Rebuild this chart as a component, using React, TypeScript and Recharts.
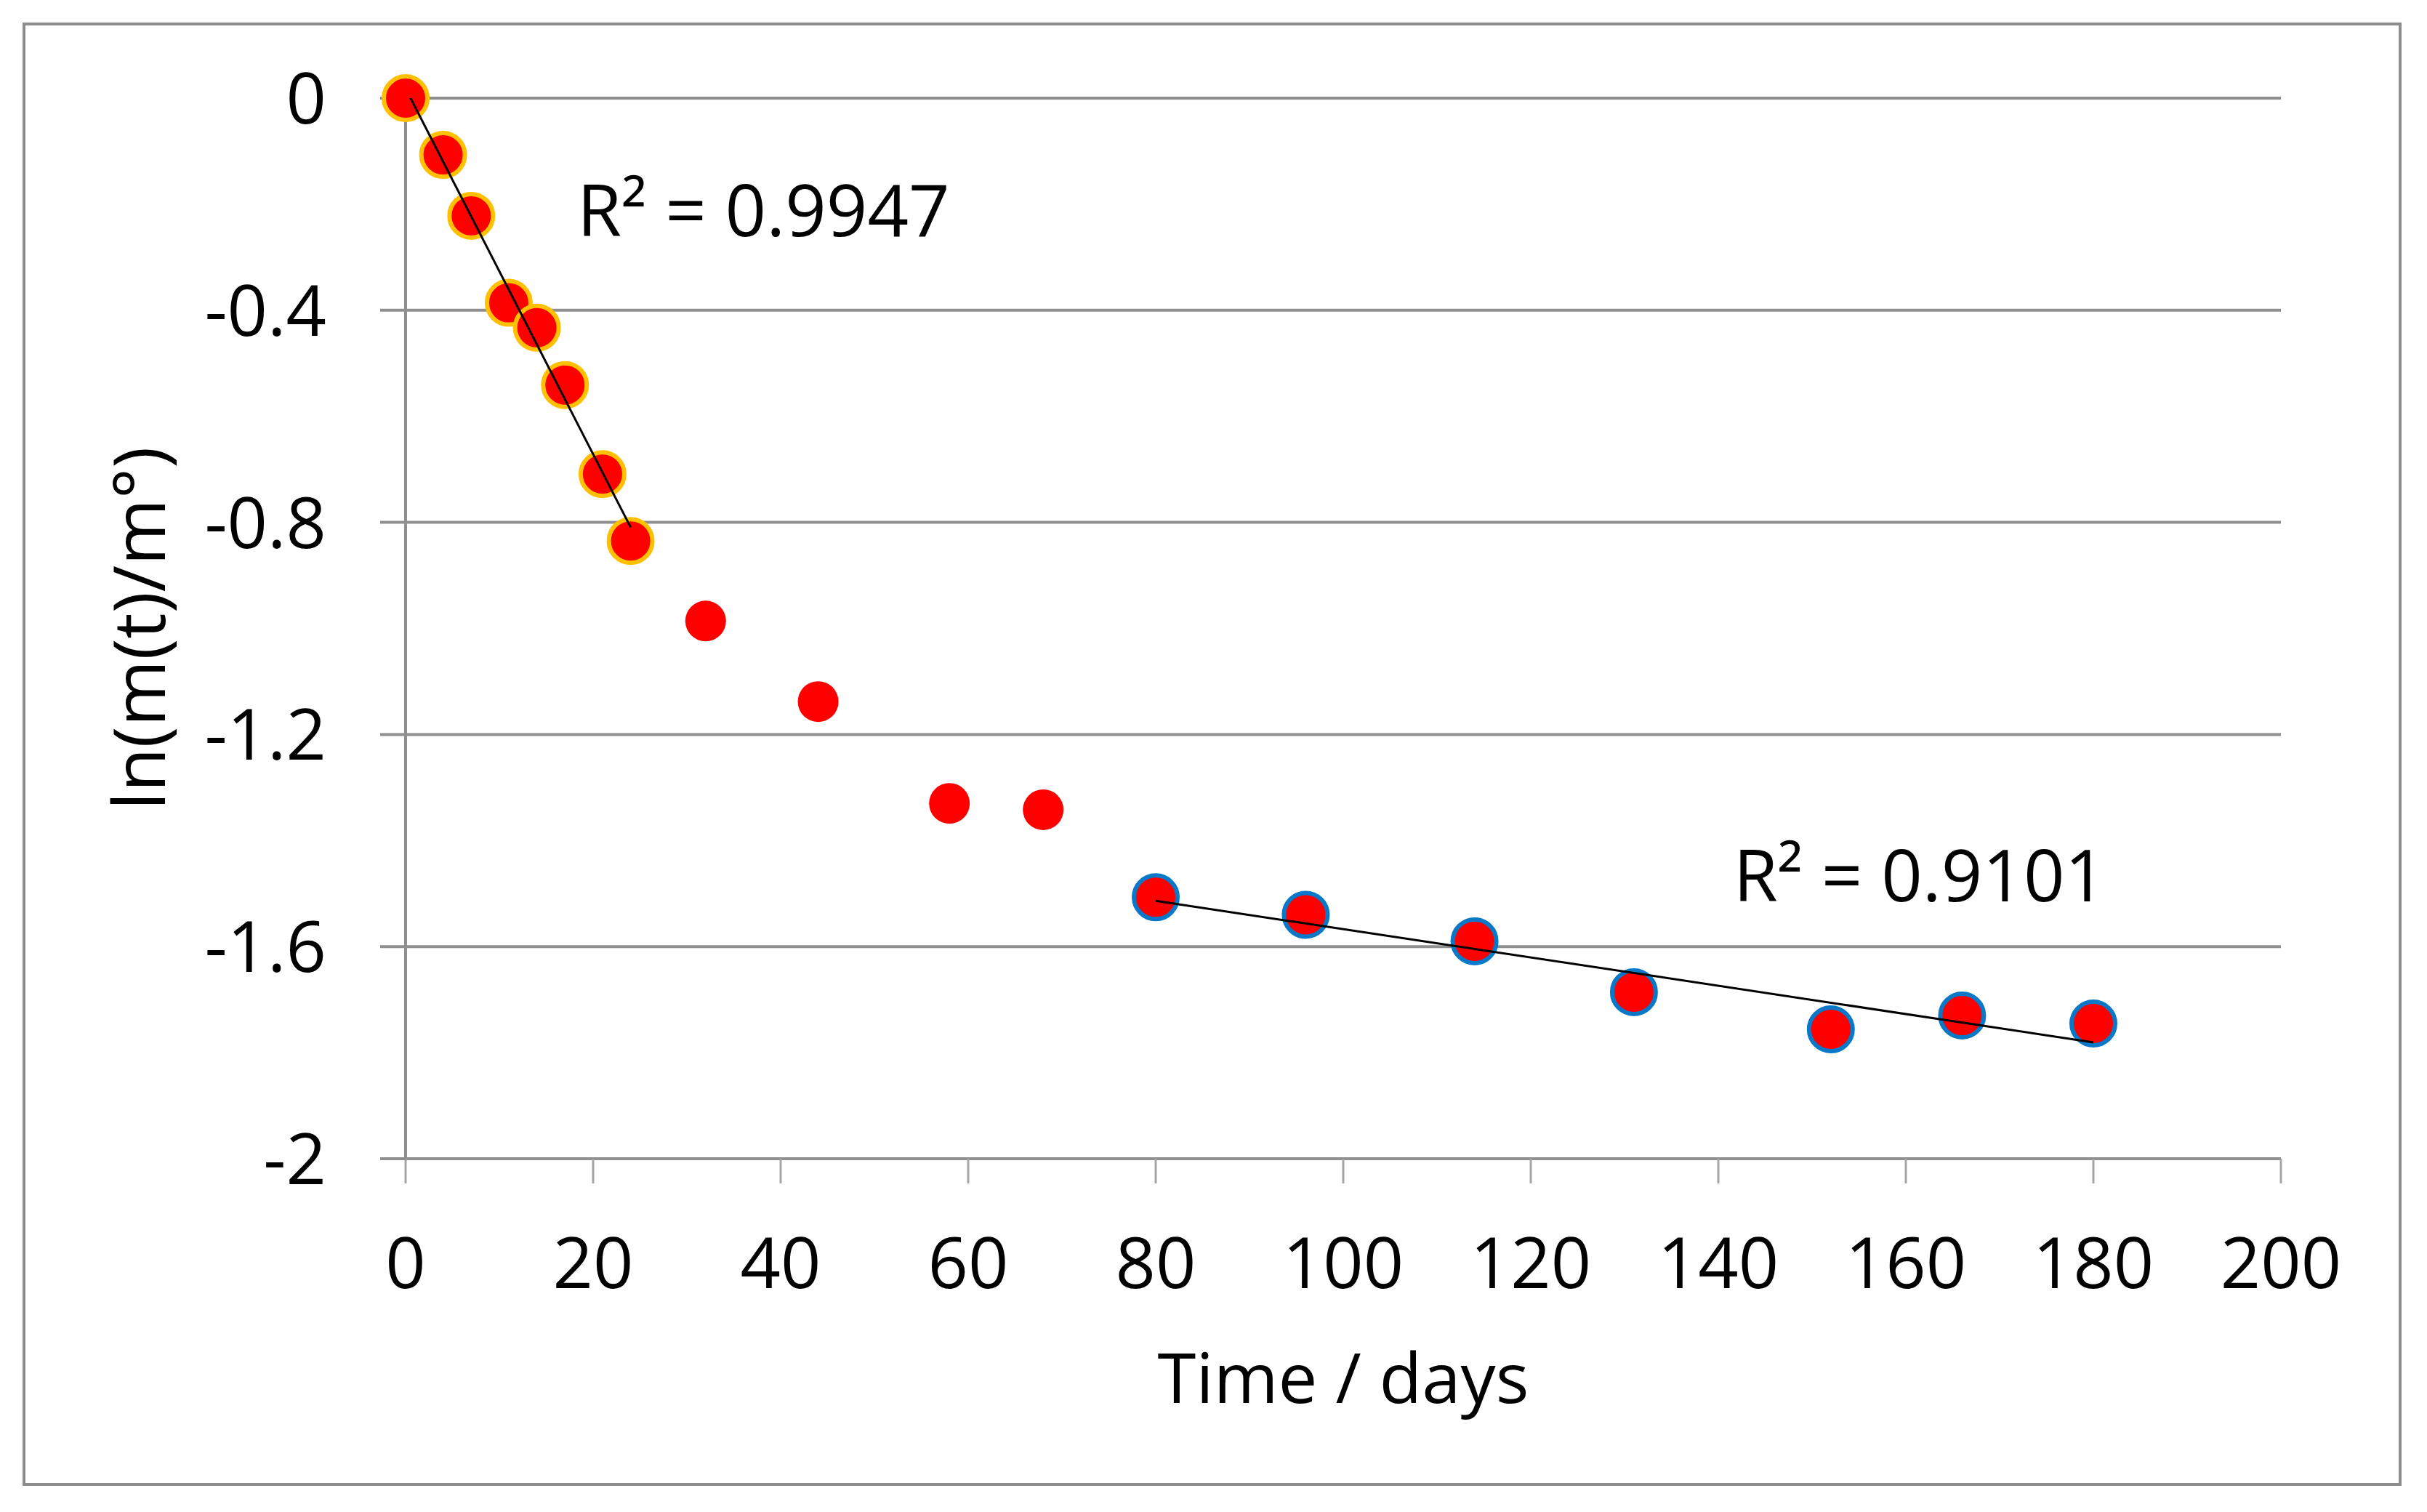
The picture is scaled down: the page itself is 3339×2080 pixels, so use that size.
import { ScatterChart, Scatter, XAxis, YAxis, CartesianGrid, ReferenceDot } from 'recharts';

// ln(m(t)/m°) against time
const earlyDays = [0, 4, 7, 11, 14, 17, 21, 24];
const earlyLn = [0, -0.107, -0.222, -0.386, -0.433, -0.541, -0.709, -0.835];
const midDays = [32, 44, 58, 68];
const midLn = [-0.986, -1.138, -1.33, -1.342];
const lateDays = [80, 96, 114, 131, 152, 166, 180];
const lateLn = [-1.507, -1.54, -1.59, -1.686, -1.756, -1.73, -1.745];

const xTicks = [0, 20, 40, 60, 80, 100, 120, 140, 160, 180, 200];
const yTicks = [0, -0.4, -0.8, -1.2, -1.6, -2];

const earlyR2 = 'R² = 0.9947';
const lateR2 = 'R² = 0.9101';

const W = 3339;
const H = 2080;
const FONT = '"Open Sans", "DejaVu Sans", sans-serif';
const GRID = '#8f8f8f';

const zip = (xs: number[], ys: number[]) => xs.map((x, i) => ({ x, y: ys[i] }));

// least squares line between first and last x
function fitLine(xs: number[], ys: number[]) {
  const n = xs.length;
  const mx = xs.reduce((a, b) => a + b, 0) / n;
  const my = ys.reduce((a, b) => a + b, 0) / n;
  let sxy = 0;
  let sxx = 0;
  xs.forEach((x, i) => {
    sxy += (x - mx) * (ys[i] - my);
    sxx += (x - mx) * (x - mx);
  });
  const b = sxy / sxx;
  const a = my - b * mx;
  const x0 = xs[0];
  const x1 = xs[n - 1];
  return [
    { x: x0, y: a + b * x0 },
    { x: x1, y: a + b * x1 },
  ];
}

const earlyPts = zip(earlyDays, earlyLn);
const midPts = zip(midDays, midLn);
const latePts = zip(lateDays, lateLn);
const earlyFit = fitLine(earlyDays, earlyLn);
const lateFit = fitLine(lateDays, lateLn);

const dot = (stroke: string | null, r: number) => (props: any) => (
  <circle
    cx={props.cx}
    cy={props.cy}
    r={r}
    fill="#ff0000"
    stroke={stroke || 'none'}
    strokeWidth={stroke ? 6 : 0}
  />
);

const YTick = (props: any) => (
  <text x={props.x} y={props.y} dy="0.36em" textAnchor="end" fontFamily={FONT} fontSize={97} fill="#000">
    {props.payload.value}
  </text>
);

const XTick = (props: any) => (
  <text x={props.x} y={props.y} dy={144} textAnchor="middle" fontFamily={FONT} fontSize={97} fill="#000">
    {props.payload.value}
  </text>
);

const r2Label = (text: string) => (props: any) => {
  const vb = props.viewBox || {};
  return (
    <text x={vb.x} y={vb.y} fontFamily={FONT} fontSize={99} fill="#000">
      {text}
    </text>
  );
};

export default function App() {
  return (
    <div style={{ position: 'absolute', left: 0, top: 0, width: W, height: H, background: '#fff' }}>
      <div
        style={{
          position: 'absolute',
          left: 31,
          top: 31,
          width: 3273,
          height: 2013,
          border: '4px solid #8c8c8c',
          boxSizing: 'border-box',
        }}
      />
      <div style={{ position: 'absolute', left: 0, top: 0 }}>
        <ScatterChart width={W} height={H} margin={{ top: 135, right: 201, bottom: 286, left: 358 }}>
          <CartesianGrid horizontal vertical={false} stroke={GRID} strokeWidth={4} />
          <XAxis
            type="number"
            dataKey="x"
            domain={[0, 200]}
            ticks={xTicks}
            interval={0}
            height={200}
            axisLine={{ stroke: GRID, strokeWidth: 4 }}
            tickLine={{ stroke: '#a6a6a6', strokeWidth: 3 }}
            tickSize={34}
            tickMargin={0}
            tick={<XTick />}
            label={{
              content: (p: any) => {
                const vb = p.viewBox;
                return (
                  <text x={vb.x + vb.width / 2} y={vb.y + 336} textAnchor="middle" fontFamily={FONT} fontSize={96} fill="#000">
                    Time / days
                  </text>
                );
              },
            }}
          />
          <YAxis
            type="number"
            dataKey="y"
            domain={[-2, 0]}
            ticks={yTicks}
            interval={0}
            width={200}
            axisLine={{ stroke: GRID, strokeWidth: 4 }}
            tickLine={{ stroke: GRID, strokeWidth: 4 }}
            tickSize={35}
            tickMargin={74}
            tick={<YTick />}
            label={{
              content: (p: any) => {
                const vb = p.viewBox;
                const cx = vb.x - 131;
                const cy = vb.y + vb.height / 2;
                return (
                  <text
                    x={cx}
                    y={cy}
                    textAnchor="middle"
                    transform={`rotate(-90, ${cx}, ${cy})`}
                    fontFamily={FONT}
                    fontSize={99}
                    fill="#000"
                  >
                    ln(m(t)/m°)
                  </text>
                );
              },
            }}
          />
          {/* hidden twin axis for the trendlines so they do not widen the main domain */}
          <YAxis yAxisId="fit" type="number" dataKey="y" domain={[-2, 0]} allowDataOverflow hide />
          <Scatter data={midPts} shape={dot(null, 28)} isAnimationActive={false} />
          <Scatter data={earlyPts} shape={dot('#ffc000', 30)} isAnimationActive={false} />
          <Scatter data={latePts} shape={dot('#0a78c8', 30)} isAnimationActive={false} />
          <Scatter
            yAxisId="fit"
            data={earlyFit}
            line={{ stroke: '#000', strokeWidth: 3 }}
            shape={() => <g />}
            isAnimationActive={false}
          />
          <Scatter
            yAxisId="fit"
            data={lateFit}
            line={{ stroke: '#000', strokeWidth: 3 }}
            shape={() => <g />}
            isAnimationActive={false}
          />
          <ReferenceDot x={18.3} y={-0.26} r={0} stroke="none" fill="none" label={{ content: r2Label(earlyR2) }} />
          <ReferenceDot x={141.6} y={-1.515} r={0} stroke="none" fill="none" label={{ content: r2Label(lateR2) }} />
        </ScatterChart>
      </div>
    </div>
  );
}
